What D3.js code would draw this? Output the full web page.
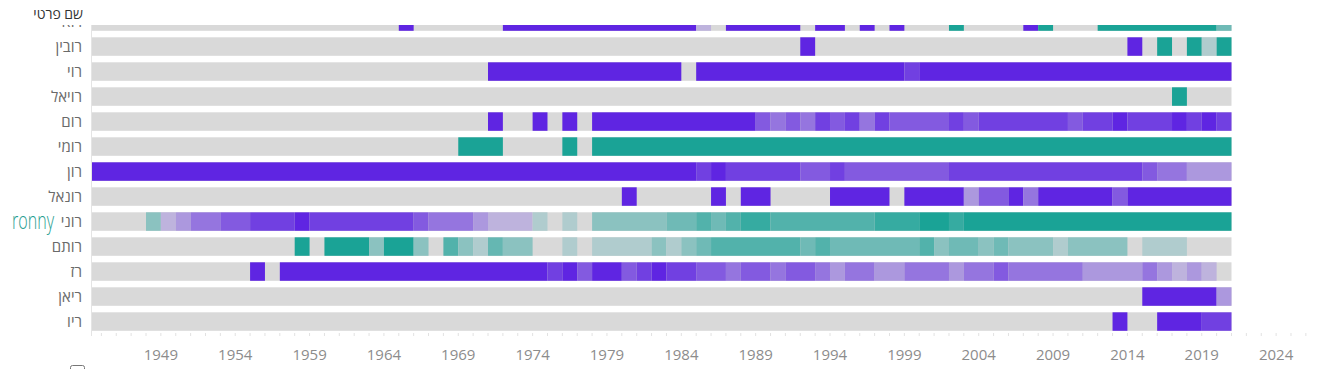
<!DOCTYPE html>
<html>
<head>
<meta charset="utf-8">
<script src="https://cdn.jsdelivr.net/npm/d3@7"></script>
<style>
body { margin: 0; background: #fff; }
svg { display: block; }
</style>
</head>
<body>
<svg id="chart" width="1320" height="369"></svg>
<script>
// names, top to bottom (first one is scrolled half out of view)
var names = ["רואי", "רובין", "רוי", "רויאל", "רום", "רומי", "רון", "רונאל", "רוני", "רותם", "רז", "ריאן", "ריו"];

// tick labels on the year axis
var tickYears = [1949, 1954, 1959, 1964, 1969, 1974, 1979, 1984, 1989, 1994, 1999, 2004, 2009, 2014, 2019, 2024];

// runs of years: [from, to, share] ; -1 = all boys (purple), 1 = all girls (teal), missing = no data
var roee = [[1965,1965,-1],[1972,1984,-1],[1985,1985,-0.2],[1987,1991,-1],[1993,1994,-1],[1996,1996,-1],[1998,1998,-1],
    [2002,2002,1],[2007,2007,-1],[2008,2008,1],[2012,2019,1],[2020,2020,0.55]];
var rubin = [[1992,1992,-1],[2014,2014,-1],[2016,2016,1],[2018,2018,1],[2019,2019,0.2],[2020,2020,1]];
var roy = [[1971,1983,-1],[1985,1998,-1],[1999,1999,-0.85],[2000,2020,-1]];
var royal = [[2017,2017,1]];
var rom = [[1971,1971,-1],[1974,1974,-1],[1976,1976,-1],[1978,1988,-1],[1989,1989,-0.7],[1990,1990,-0.55],[1991,1991,-0.7],
    [1992,1992,-0.55],[1993,1993,-0.85],[1994,1994,-0.7],[1995,1995,-0.85],[1996,1996,-0.55],[1997,1997,-0.85],[1998,2001,-0.7],
    [2002,2002,-0.85],[2003,2003,-0.7],[2004,2009,-0.85],[2010,2010,-0.7],[2011,2012,-0.85],[2013,2013,-1],[2014,2016,-0.85],
    [2017,2017,-1],[2018,2018,-0.85],[2019,2019,-1],[2020,2020,-0.85]];
var romi = [[1969,1971,1],[1976,1976,1],[1978,2020,1]];
var ron = [[1944,1984,-1],[1985,1985,-0.85],[1986,1986,-1],[1987,1991,-0.85],[1992,1993,-0.7],[1994,1994,-0.85],[1995,2001,-0.7],
    [2002,2014,-0.85],[2015,2015,-0.7],[2016,2017,-0.55],[2018,2020,-0.35]];
var ronel = [[1980,1980,-1],[1986,1986,-1],[1988,1989,-1],[1994,1997,-1],[1999,2002,-1],[2003,2003,-0.35],[2004,2005,-0.7],
    [2006,2006,-1],[2007,2007,-0.55],[2008,2012,-1],[2013,2013,-0.7],[2014,2020,-1]];
var ronny = [[1948,1948,0.4],[1949,1949,-0.2],[1950,1950,-0.35],[1951,1952,-0.55],[1953,1954,-0.7],[1955,1957,-0.85],[1958,1958,-1],
    [1959,1965,-0.85],[1966,1966,-0.7],[1967,1969,-0.55],[1970,1970,-0.35],[1971,1973,-0.2],[1974,1974,0.2],[1976,1976,0.2],
    [1978,1982,0.4],[1983,1984,0.55],[1985,1985,0.7],[1986,1986,0.55],[1987,1987,0.7],[1988,1989,0.85],[1990,1996,0.7],
    [1997,1999,0.85],[2000,2001,1],[2002,2002,0.85],[2003,2020,1]];
var rotem = [[1958,1958,1],[1960,1962,1],[1963,1963,0.4],[1964,1965,1],[1966,1966,0.4],[1968,1968,0.7],[1969,1969,0.4],
    [1970,1970,0.2],[1971,1971,0.6],[1972,1973,0.4],[1976,1976,0.2],[1978,1981,0.2],[1982,1982,0.4],[1983,1983,0.2],
    [1984,1984,0.4],[1985,1985,0.55],[1986,1991,0.7],[1992,1992,0.55],[1993,1993,0.7],[1994,1999,0.55],[2000,2000,0.7],
    [2001,2001,0.4],[2002,2003,0.55],[2004,2004,0.4],[2005,2005,0.55],[2006,2008,0.4],[2009,2009,0.2],[2010,2013,0.4],
    [2015,2017,0.2]];
var raz = [[1955,1955,-1],[1957,1974,-1],[1975,1975,-0.85],[1976,1976,-1],[1977,1977,-0.7],[1978,1979,-1],[1980,1980,-0.7],
    [1981,1981,-0.85],[1982,1982,-1],[1983,1984,-0.85],[1985,1986,-0.7],[1987,1987,-0.55],[1988,1989,-0.7],[1990,1990,-0.55],
    [1991,1992,-0.7],[1993,1993,-0.55],[1994,1994,-0.35],[1995,1996,-0.55],[1997,1998,-0.35],[1999,2001,-0.55],[2002,2002,-0.35],
    [2003,2004,-0.55],[2005,2005,-0.7],[2006,2010,-0.55],[2011,2014,-0.35],[2015,2015,-0.55],[2016,2016,-0.35],[2017,2017,-0.2],
    [2018,2018,-0.35],[2019,2019,-0.2]];
var rayan = [[2015,2019,-1],[2020,2020,-0.35]];
var rio = [[2013,2013,-1],[2016,2018,-1],[2019,2020,-0.85]];

var runs = [roee, rubin, roy, royal, rom, romi, ron, ronel, ronny, rotem, raz, rayan, rio];
var firstYear = 1944, lastYear = 2020;

var svg = d3.select("#chart");

var x = d3.scaleLinear().domain([1948, 2021]).range([146, 1231.5]);
var y = d3.scaleBand().domain(names).range([9.05, 334.05]).paddingInner(0.26).paddingOuter(0.13);
var color = d3.scaleLinear().domain([-1, 0, 1]).range(["#5f25e2", "#d6d6dc", "#1aa396"]);

svg.append("defs").append("clipPath").attr("id", "plot")
    .append("rect").attr("x", 92).attr("y", 25).attr("width", 1228).attr("height", 315);
svg.append("defs").append("clipPath").attr("id", "labels")
    .append("rect").attr("x", 0).attr("y", 25).attr("width", 92).attr("height", 315);

// rows
var plot = svg.append("g").attr("clip-path", "url(#plot)");
var rows = plot.selectAll("g.row")
    .data(names)
    .enter()
    .append("g")
    .attr("class", "row");

rows.append("rect")
    .attr("x", x(firstYear))
    .attr("y", function(d) { return y(d); })
    .attr("width", x(lastYear + 1) - x(firstYear))
    .attr("height", y.bandwidth())
    .attr("fill", "#d9d9d9");

rows.selectAll("rect.cell")
    .data(function(d, i) { return runs[i].map(function(r) { return {name: d, from: r[0], to: r[1], v: r[2]}; }); })
    .enter()
    .append("rect")
    .attr("class", "cell")
    .attr("x", function(d) { return x(d.from); })
    .attr("y", function(d) { return y(d.name); })
    .attr("width", function(d) { return x(d.to + 1) - x(d.from); })
    .attr("height", y.bandwidth())
    .attr("fill", function(d) { return color(d.v); });

// left border of the plot
svg.append("line")
    .attr("x1", 91.5).attr("x2", 91.5)
    .attr("y1", 25).attr("y2", 336)
    .attr("stroke", "#e4e4e4");

// row labels
svg.append("g").attr("clip-path", "url(#labels)")
    .selectAll("text")
    .data(names)
    .enter()
    .append("text")
    .attr("x", 82)
    .attr("y", function(d) { return y(d) + y.bandwidth() / 2; })
    .attr("dy", "0.36em")
    .attr("text-anchor", "end")
    .attr("font-family", "'Open Sans', 'Noto Sans', sans-serif")
    .attr("font-size", 15)
    .attr("fill", "#6a6a6a")
    .text(function(d) { return d; });

// highlight note next to רוני
svg.append("text")
    .attr("x", 12)
    .attr("y", 229)
    .attr("font-family", "'Open Sans', sans-serif")
    .attr("font-size", 23)
    .attr("font-weight", 300)
    .attr("textLength", 42)
    .attr("lengthAdjust", "spacingAndGlyphs")
    .attr("fill", "#1f9e90")
    .text("ronny");

// x axis: small tick every year, labels every 5
var axis = svg.append("g").attr("transform", "translate(0,333)");
axis.selectAll("line")
    .data(d3.range(1945, 2029))
    .enter()
    .append("line")
    .attr("x1", function(d) { return x(d); })
    .attr("x2", function(d) { return x(d); })
    .attr("y1", 0).attr("y2", 3)
    .attr("stroke", "#e2e2e2");

axis.selectAll("text")
    .data(tickYears)
    .enter()
    .append("text")
    .attr("x", function(d) { return x(d); })
    .attr("y", 27)
    .attr("text-anchor", "middle")
    .attr("font-family", "'Open Sans', sans-serif")
    .attr("font-size", 15)
    .attr("fill", "#8c8c8c")
    .text(function(d) { return d; });

// header
svg.append("text")
    .attr("x", 83)
    .attr("y", 19)
    .attr("text-anchor", "end")
    .attr("font-family", "'Open Sans', 'Noto Sans', sans-serif")
    .attr("font-size", 14)
    .attr("fill", "#333")
    .text("שם פרטי");

// little checkbox at the bottom left
svg.append("rect")
    .attr("x", 70.5).attr("y", 365.5)
    .attr("width", 14).attr("height", 14)
    .attr("rx", 2)
    .attr("fill", "#fff")
    .attr("stroke", "#777");
</script>
</body>
</html>
